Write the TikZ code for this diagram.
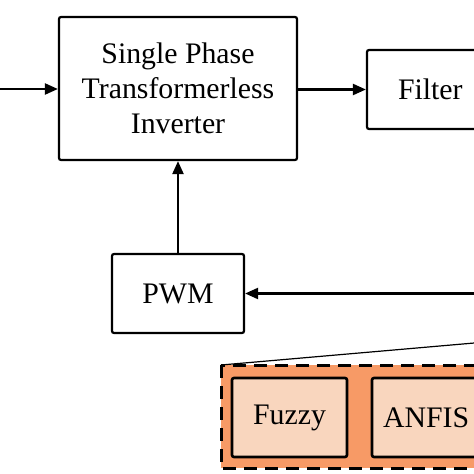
\documentclass[tikz,border=0pt]{standalone}
\usepackage{fontspec}
\setmainfont{Liberation Serif}
\usetikzlibrary{arrows.meta,positioning}
\definecolor{orangeA}{HTML}{F79A66}
\definecolor{peach}{HTML}{F9D6BE}
\begin{document}
\begin{tikzpicture}[x=1pt,y=-1pt,
  blk/.style={draw=black, line width=2.2pt, rounded corners=2pt, inner sep=0pt, align=center,
    font=\fontsize{29.8}{35}\selectfont},
  lblk/.style={blk, fill=peach, line width=2.6pt},
  conn/.style={line width=2.2pt, -{Triangle[length=13pt,width=11pt]}},
  zone/.style={draw=black, fill=orangeA, line width=3pt, dash pattern=on 13pt off 8pt}
]
\clip (0,0) rectangle (474,474);
\fill[white] (0,0) rectangle (474,474);
% orange zone
\draw[zone] (221,365) rectangle (540,468);
\coordinate (zoneTL) at (221,365);
\coordinate (zoomR) at (480,342.5);
\draw[line width=1.2pt] (zoneTL) -- (zoomR);
% blocks
\node[blk, minimum width=238pt, minimum height=143pt] (inv) at (178,88.5)
  {Single Phase\\Transformerless\\Inverter};
\node[blk, minimum width=160pt, minimum height=79pt, text width=160pt, align=left] (filt) at (447,89.5)
  {\hspace*{31pt}Filter};
\node[blk, minimum width=132pt, minimum height=79pt] (pwm) at (178,293.5) {PWM};
\node[lblk, minimum width=115pt, minimum height=79pt] (fuzzy) at (289.5,417.5) {Fuzzy};
\node[lblk, minimum width=140pt, minimum height=79pt, text width=140pt, align=left] (anfis) at (442,417.5)
  {\hspace*{11pt}ANFIS};
% connectors
\coordinate (inL) at (0,89);
\coordinate (inR) at (480,293.5);
\draw[conn] (inL) -- (inv.west |- inL);
\draw[conn] (inv.east |- filt.west) -- (filt.west);
\draw[conn] (pwm.north) -- (inv.south);
\draw[conn] (inR) -- (pwm.east);
\end{tikzpicture}
\end{document}
